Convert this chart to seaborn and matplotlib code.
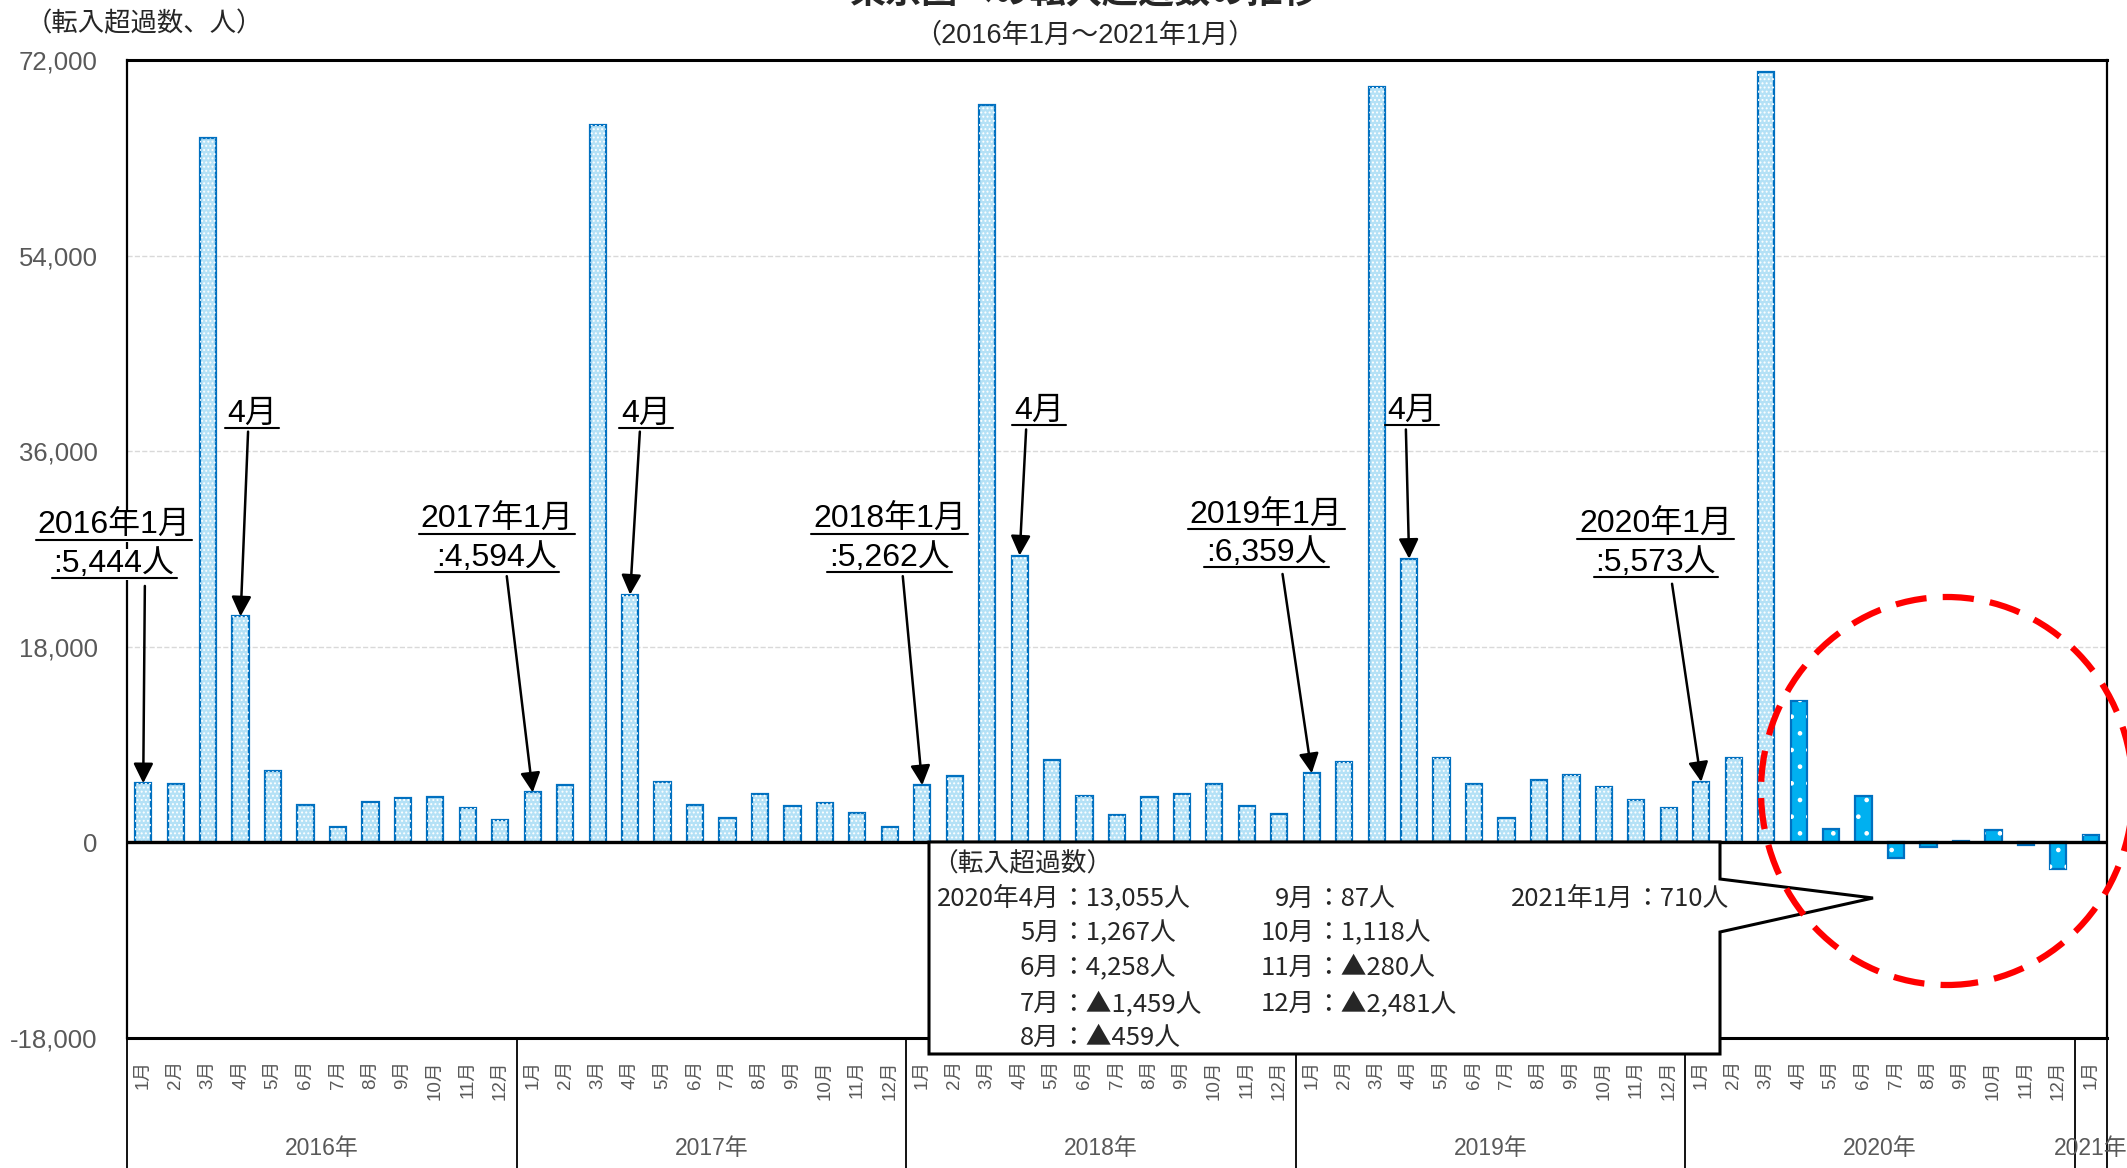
import matplotlib
matplotlib.use("Agg")
import matplotlib.pyplot as plt
import seaborn as sns
import numpy as np
import pandas as pd
from matplotlib.patches import Polygon, Ellipse, Rectangle
from matplotlib.lines import Line2D
from matplotlib.ticker import FuncFormatter

# monthly net inflow into the Tokyo area (people), Jan 2016 - Jan 2021
years = ['2016年', '2017年', '2018年', '2019年', '2020年', '2021年']
month_names = [f'{m}月' for m in range(1, 13)]

net_2016 = [5444, 5400, 64800, 20800, 6560, 3440, 1380, 3740, 4050, 4200, 3190, 2020]
net_2017 = [4594, 5250, 66000, 22800, 5550, 3470, 2200, 4450, 3370, 3590, 2730, 1410]
net_2018 = [5262, 6130, 67900, 26400, 7600, 4230, 2480, 4200, 4420, 5340, 3340, 2640]
net_2019 = [6359, 7360, 69500, 26100, 7730, 5400, 2240, 5740, 6170, 5120, 3870, 3130]
net_2020 = [5573, 7780, 70900, 13055, 1267, 4258, -1459, -459, 87, 1118, -280, -2481]
net_2021 = [710]

# callouts: (bar index, text lines)
callouts = [
    (0, ['2016年1月', ':5,444人']),
    (3, ['4月']),
    (12, ['2017年1月', ':4,594人']),
    (15, ['4月']),
    (24, ['2018年1月', ':5,262人']),
    (27, ['4月']),
    (36, ['2019年1月', ':6,359人']),
    (39, ['4月']),
    (48, ['2020年1月', ':5,573人']),
]
# text centre (x index, y of first line) and arrow start
callout_text_pos = [(-0.9, 29100), (3.35, 39400), (10.9, 29650), (15.5, 39400), (23.0, 29650),
                    (27.6, 39700), (34.6, 30100), (39.1, 39700), (46.6, 29200)]
callout_arrow_start = [(0.05, 23600), (3.23, 37800), (11.2, 24500), (15.3, 37800), (23.4, 24500),
                       (27.2, 38000), (35.1, 24700), (38.9, 38000), (47.1, 23800)]

box_title = '（転入超過数）'
box_col1 = [('2020年4月', '13,055人'), ('5月', '1,267人'), ('6月', '4,258人'),
            ('7月', '▲1,459人'), ('8月', '▲459人')]
box_col2 = [('9月', '87人'), ('10月', '1,118人'), ('11月', '▲280人'), ('12月', '▲2,481人')]
box_col3 = [('2021年1月', '710人')]

values = net_2016 + net_2017 + net_2018 + net_2019 + net_2020 + net_2021
periods = [f'{y}{m}' for y in years[:5] for m in month_names] + ['2021年1月']
month_labels = month_names * 5 + ['1月']
phase = ['before' if i < 51 else 'after' for i in range(len(values))]
df = pd.DataFrame({'period': periods, 'value': values, 'phase': phase})

W, H = 2127, 1168
sns.set_theme(style='white')
plt.rcParams['font.family'] = ['Liberation Sans', 'Noto Sans CJK JP']
plt.rcParams['hatch.linewidth'] = 0.9

fig = plt.figure(figsize=(W / 100, H / 100), dpi=100)
ax = fig.add_axes([127 / W, 1 - 1038 / H, (2107 - 127) / W, (1038 - 60) / H])

sns.barplot(data=df, x='period', y='value', hue='phase', order=periods,
            palette={'before': '#B4E1F6', 'after': '#00B0F0'}, saturation=1,
            dodge=False, width=0.5, edgecolor='#0070C0', linewidth=1.6,
            errorbar=None, legend=False, ax=ax)

# dotted texture on bars
for p in list(ax.patches):
    dark = p.get_facecolor()[2] > 0.9 and p.get_facecolor()[0] < 0.1
    ax.add_patch(Rectangle(p.get_xy(), p.get_width(), p.get_height(), facecolor='none',
                           edgecolor='white', lw=0, hatch='.' if dark else '....', zorder=p.get_zorder() + 0.1))

ax.set_xlim(-0.5, len(values) - 0.5)
ax.set_ylim(-18000, 72000)
ax.set_yticks(np.arange(-18000, 72001, 18000))
ax.yaxis.set_major_formatter(FuncFormatter(lambda v, _: f'{v:,.0f}'))
ax.grid(axis='y', ls='--', color='#D9D9D9', lw=1)
ax.set_axisbelow(True)
ax.axhline(0, color='black', lw=2.4, zorder=3)
ax.set_xlabel('')
ax.set_ylabel('')
for s in ax.spines.values():
    s.set_color('black')
    s.set_linewidth(1.6)
ax.spines['top'].set_linewidth(2.2)
ax.spines['bottom'].set_linewidth(2.2)

ax.set_xticks(range(len(values)))
ax.set_xticklabels(month_labels, rotation=90, fontsize=13.5, color='#595959')
ax.tick_params(axis='x', length=0, pad=16)
ax.tick_params(axis='y', length=0, pad=21, labelsize=18.5, labelcolor='#595959')

# year groups below the axis
xt = ax.get_xaxis_transform()
for b in [-0.5, 11.5, 23.5, 35.5, 47.5, 59.5, 60.5]:
    ax.plot([b, b], [0, -0.14], transform=xt, color='black', lw=1.3, clip_on=False)
for k, y in enumerate(years):
    cx = 12 * k + 5.5 if k < 5 else 60
    ax.text(cx, -0.1125, y, transform=xt, ha='center', va='center', fontsize=16.5, color='#595959')

# arrows and underlined labels
under = []
for (idx, lines), (tx, ty), (sx, sy) in zip(callouts, callout_text_pos, callout_arrow_start):
    for j, line in enumerate(lines):
        t = ax.text(tx, ty - j * 3500, line, ha='center', va='center', fontsize=23, color='black',
                    bbox=dict(facecolor='white', edgecolor='none', pad=0.5), zorder=6)
        under.append(t)
    ax.annotate('', xy=(idx, values[idx]), xytext=(sx, sy),
                arrowprops=dict(arrowstyle='-|>', color='black', lw=1.8, mutation_scale=30,
                                shrinkA=0, shrinkB=0), zorder=6)

# titles
fig.text(1085 / W, 1 - 12 / H, '東京圏への転入超過数の推移', ha='center', va='bottom', fontsize=26,
         fontweight='bold')
fig.text(1085 / W, 1 - 35 / H, '（2016年1月～2021年1月）', ha='center', va='center', fontsize=19.5)
fig.text(26 / W, 1 - 24 / H, '（転入超過数、人）', ha='left', va='center', fontsize=19)

# callout box with tail
pts = [(929, 842), (1720, 842), (1720, 879), (1873, 898), (1720, 932), (1720, 1054), (929, 1054)]
fig.add_artist(Polygon([(x / W, 1 - y / H) for x, y in pts], closed=True, facecolor='white',
                       edgecolor='black', lw=2.2, transform=fig.transFigure, zorder=4))
box_font = dict(fontsize=18.5, family=['Noto Sans CJK JP'], va='center', zorder=5)
row_y = [864, 899, 933, 968, 1004, 1038]
fig.text(932 / W, 1 - row_y[0] / H, box_title, ha='left', **box_font)
for col, xr in [(box_col1, 1060), (box_col2, 1315), (box_col3, 1634)]:
    for r, (m, v) in enumerate(col):
        y = 1 - row_y[r + 1] / H
        fig.text(xr / W, y, m, ha='right', **box_font)
        fig.text(xr / W, y, '：' + v, ha='left', **box_font)

# red dashed ring around 2020
fig.add_artist(Ellipse((1947 / W, 1 - 791 / H), 372 / W, 388 / H, transform=fig.transFigure,
                       fill=False, edgecolor='#FF0000', lw=4.5, ls=(0, (5, 2.6)), zorder=7))

# underline the arrow labels
fig.canvas.draw()
r = fig.canvas.get_renderer()
inv = fig.transFigure.inverted()
for t in under:
    bb = t.get_window_extent(r)
    (x0, y0), (x1, _) = inv.transform([(bb.x0 - 2, bb.y0 + 1), (bb.x1 + 2, bb.y0 + 1)])
    fig.add_artist(Line2D([x0, x1], [y0, y0], color='black', lw=1.5, transform=fig.transFigure, zorder=7))

fig.savefig('out.png', dpi=100)
plt.close(fig)
